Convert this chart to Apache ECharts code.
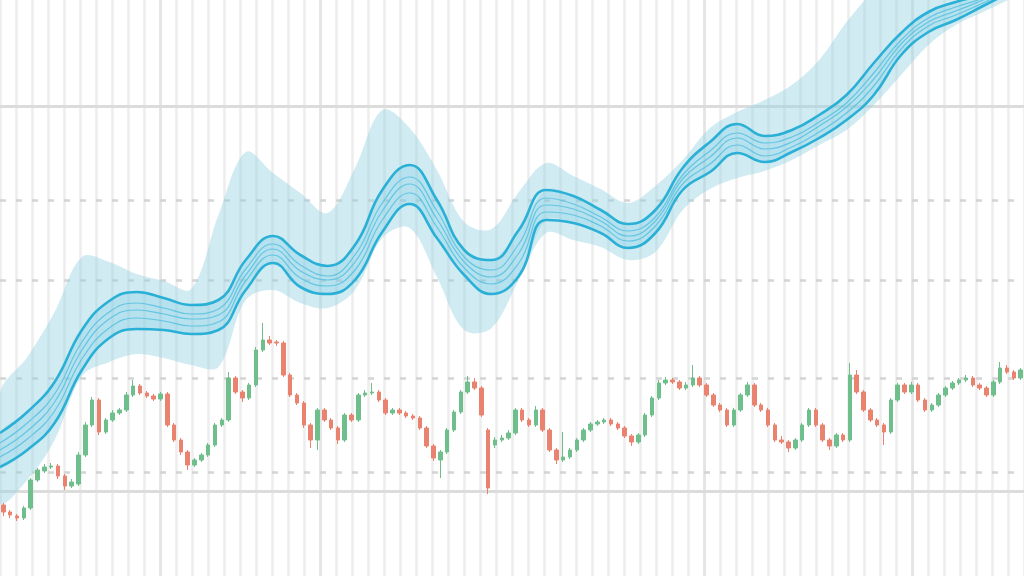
<!DOCTYPE html>
<html><head><meta charset="utf-8">
<script src="https://cdn.jsdelivr.net/npm/echarts@6/dist/echarts.min.js"></script>
<style>html,body{margin:0;padding:0;background:#fff}#c{width:1024px;height:576px}</style>
</head><body><div id="c"></div>
<script>
// ---- candlestick data (price units) ----
const opens = [71,64,60,58,68,96,105,109,110,100,
90,92,121,151,176,144,156,163,166,181,
190,183,180,177,182,151,136,124,111,116,
121,131,151,156,198,184,178,191,226,236,
234,233,201,181,173,151,136,166,156,148,
136,161,156,181,183,184,176,163,166,163,
160,158,148,130,116,124,146,164,184,194,
188,146,131,136,138,143,166,156,151,166,
146,126,116,119,126,136,146,152,154,156,
152,148,140,134,141,161,178,193,196,194,
188,191,198,191,181,171,166,151,166,181,
191,171,166,151,136,134,128,136,151,166,
151,136,130,141,136,201,184,166,156,151,
144,176,191,184,191,176,166,171,181,188,
193,196,198,191,188,181,194,208,204,198];
const closes = [64,61,58,68,96,106,109,110,100,90,
94,121,151,176,144,156,163,166,181,190,
183,180,177,182,151,136,124,111,116,121,
131,151,156,198,184,178,191,226,236,233,
233,201,181,173,151,136,166,156,148,136,
161,156,181,183,184,176,163,166,163,160,
158,148,130,118,124,146,164,184,194,188,
161,88,136,138,143,166,156,151,166,146,
126,116,119,126,136,146,152,154,156,152,
148,140,134,141,161,178,193,196,194,188,
191,198,191,181,171,166,151,166,181,191,
171,166,151,136,134,128,136,151,166,151,
136,130,141,136,201,184,166,156,151,144,
176,191,184,191,176,166,171,181,188,193,
196,198,191,188,181,194,208,204,198,206];
const lows = [60,58,55,56,66,94,103,107,97,86,
88,90,119,149,141,142,154,161,164,179,
181,178,175,175,149,134,121,106,109,114,
119,129,149,154,182,174,176,189,224,231,
230,199,179,171,148,128,126,154,146,132,
134,154,154,179,181,174,161,161,161,158,
156,146,128,115,98,122,144,162,182,186,
159,82,128,134,136,141,154,149,149,144,
124,112,114,117,124,134,144,150,152,150,
146,138,130,132,139,159,176,191,192,186,
186,189,189,179,169,164,149,149,164,179,
169,164,149,134,132,124,126,134,149,149,
134,126,128,134,134,182,164,154,149,131,
142,174,182,182,174,164,164,169,179,186,
191,194,189,186,179,179,192,202,196,196];
const highs = [73,66,62,70,98,108,112,113,112,102,
97,124,154,179,178,158,166,168,184,196,
192,185,182,184,184,153,138,126,118,123,
133,153,158,204,200,186,193,229,253,240,
236,235,203,183,175,153,168,168,158,150,
163,163,183,186,193,186,178,168,168,165,
162,160,150,132,126,148,166,186,200,198,
190,148,139,141,146,168,168,158,170,168,
148,128,144,128,138,148,154,156,158,158,
154,150,142,143,163,180,196,199,198,196,
194,211,200,193,183,173,168,168,183,194,
193,173,168,153,140,136,138,153,168,168,
153,138,143,143,213,206,186,168,158,153,
178,193,193,194,193,178,173,183,190,195,
198,201,200,193,190,196,214,211,206,208];
const sessions = opens.map((_, i) => 'S' + (i + 1));

// ---- moving-average ribbon (x in sessions) ----
const ribbonDays = [0,4,8,12,16,20,24,28,32,36,40,44,48,52,56,60,64,68,72,76,80,84,88,92,96,100,104,108,112,116,120,124,128,132,136,140,144,148,150];
const maTop  = [143,164,194,246,275,284,278,271,276,316,340,321,310,331,386,411,376,326,316,346,386,380,366,352,366,408,434,452,440,446,461,481,513,543,564,574,582,596,604];
const maMid1 = [133,153,182,234,264,273,268,262,267,307,332,311,300,321,373,399,365,319,306,332,378,372,359,345,359,401,425,443,433,439,454,473,503,536,558,569,578,592,600];
const maMid2 = [126,145,174,226,257,266,262,257,261,301,327,305,296,314,365,392,357,314,299,323,371,367,355,340,355,397,419,438,427,434,450,469,497,532,554,565,576,590,597];
const maMid3 = [119,137,165,217,248,258,255,250,254,295,321,298,290,306,356,383,349,308,292,313,364,361,350,335,350,392,412,431,420,429,444,463,490,527,550,561,573,587,595];
const maBot  = [109,126,153,206,238,247,246,242,246,286,313,289,282,296,344,372,338,301,282,300,356,353,343,328,343,386,404,423,414,424,438,456,481,521,544,556,570,584,591];
const bandUpper = [183,219,264,319,314,302,295,287,361,424,403,383,363,408,466,448,406,354,347,384,413,400,387,373,390,416,448,464,476,491,516,554,586,616,636,651,666,676,681];
const bandLower = [73,96,136,200,214,222,218,211,209,276,286,273,268,286,338,348,299,246,248,296,343,336,329,316,324,366,387,398,405,416,431,446,471,501,531,551,564,577,582];

// ---- reference levels ----
const solidLevels = [470, 85];
const dashedLevels = [376, 296, 198, 104];
const majorColumns = [10, 20, 44, 57];

const candleData = opens.map((o, i) => [o, closes[i], lows[i], highs[i]]);
const pts = arr => ribbonDays.map((d, i) => [d, arr[i]]);

const chart = echarts.init(document.getElementById('c'), null, {renderer: 'canvas'});
const hidden = {axisLine:{show:false}, axisTick:{show:false}, axisLabel:{show:false}};

const lineSeries = (name, arr, w, color, op) => ({
  name, type: 'line', xAxisIndex: 1, yAxisIndex: 0, data: pts(arr), smooth: 0.45,
  showSymbol: false, silent: true, z: 4,
  lineStyle: {width: w, color, opacity: op}
});

// filled region between two ribbon curves, drawn through the axes
const areaBetween = (name, upper, lower, fill, z) => ({
  name, type: 'custom', xAxisIndex: 1, yAxisIndex: 0, silent: true, z, clip: true,
  data: [[0, 0]],
  renderItem: (params, api) => {
    const top = ribbonDays.map((d, i) => api.coord([d, upper[i]]));
    const bot = ribbonDays.map((d, i) => api.coord([d, lower[i]])).reverse();
    return {type: 'polygon', shape: {points: top.concat(bot), smooth: 0.35}, style: {fill}};
  }
});

chart.setOption({
  animation: false,
  backgroundColor: '#ffffff',
  grid: {left: 0, right: 0, top: 0, bottom: 0},
  xAxis: [
    Object.assign({type: 'category', data: sessions, boundaryGap: true, splitLine: {show: false}}, hidden),
    Object.assign({type: 'value', min: 0, max: 150, splitLine: {show: false}}, hidden),
    Object.assign({type: 'value', min: 0, max: 64, interval: 1,
      splitLine: {show: true, lineStyle: {color: '#ededed', width: 2.5}}}, hidden)
  ],
  yAxis: [Object.assign({type: 'value', min: 0, max: 576, splitLine: {show: false}}, hidden)],
  series: [
    {
      name: 'levels', type: 'line', xAxisIndex: 2, yAxisIndex: 0, data: [], z: 1, silent: true,
      markLine: {
        z: 1, silent: true, symbol: ['none', 'none'], label: {show: false},
        data: [
          ...majorColumns.map(c => ({xAxis: c, lineStyle: {color: '#e3e3e3', width: 2.5, type: 'solid'}})),
          ...solidLevels.map(v => ({yAxis: v, lineStyle: {color: '#dcdcdc', width: 3, type: 'solid'}})),
          ...dashedLevels.map(v => ({yAxis: v, lineStyle: {color: '#d4d4d4', width: 2.5, type: [6, 10]}}))
        ]
      }
    },
    areaBetween('band', bandUpper, bandLower, 'rgba(150,210,226,0.45)', 2),
    areaBetween('core', maTop, maBot, 'rgba(90,190,222,0.22)', 3),
    lineSeries('maMid1', maMid1, 1.2, '#55c1e0', 0.85),
    lineSeries('maMid2', maMid2, 1.2, '#55c1e0', 0.85),
    lineSeries('maMid3', maMid3, 1.2, '#55c1e0', 0.85),
    lineSeries('maTop', maTop, 2.6, '#2ab0d6', 1),
    lineSeries('maBot', maBot, 2.6, '#2ab0d6', 1),
    {
      name: 'price', type: 'candlestick', xAxisIndex: 0, yAxisIndex: 0, data: candleData,
      barWidth: 4, z: 5, silent: true,
      itemStyle: {color: '#6fbf8c', color0: '#e9826f', borderColor: '#6fbf8c', borderColor0: '#e9826f', borderWidth: 1}
    }
  ]
});
</script>
</body></html>
